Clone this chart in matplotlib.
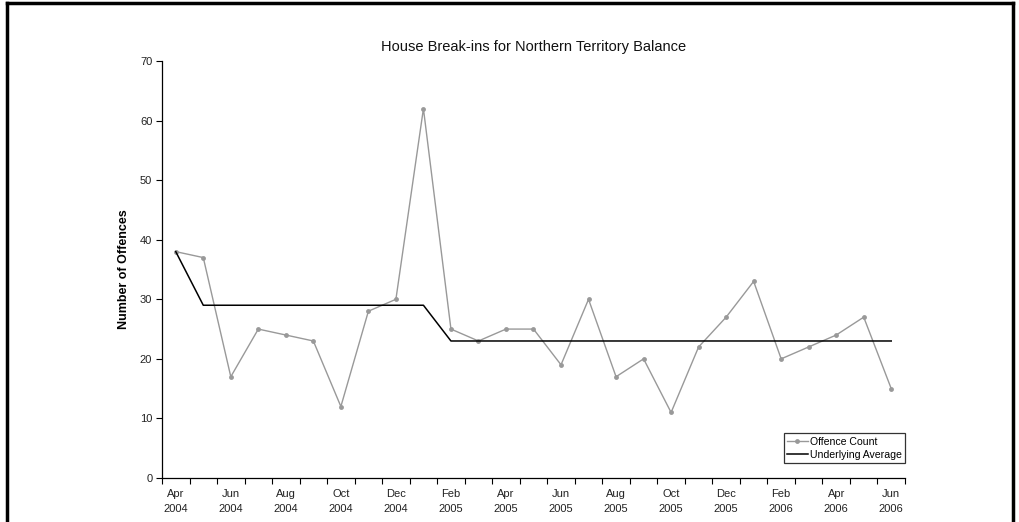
import numpy as np
import matplotlib
matplotlib.use("Agg")
import matplotlib.pyplot as plt
from matplotlib.lines import Line2D

plt.rcParams['font.family'] = ['Liberation Sans', 'DejaVu Sans']

# Monthly data, Apr 2004 .. Jun 2006
month_names = ['Jan', 'Feb', 'Mar', 'Apr', 'May', 'Jun',
               'Jul', 'Aug', 'Sep', 'Oct', 'Nov', 'Dec']
month_labels = []
m, y = 3, 2004
for k in range(27):
    month_labels.append(f"{month_names[m]}\n{y}")
    m += 1
    if m == 12:
        m, y = 0, y + 1

offence_count = [38, 37, 17, 25, 24, 23, 12, 28, 30, 62, 25, 23, 25, 25,
                 19, 30, 17, 20, 11, 22, 27, 33, 20, 22, 24, 27, 15]
underlying_avg = [38, 29, 29, 29, 29, 29, 29, 29, 29, 29, 23, 23, 23, 23,
                  23, 23, 23, 23, 23, 23, 23, 23, 23, 23, 23, 23, 23]

W, H = 1020, 522
fig = plt.figure(figsize=(W / 100, H / 100), dpi=100)
ax = fig.add_axes([162 / W, 1 - 478 / H, (905 - 162) / W, (478 - 61) / H])

x = np.arange(len(offence_count))
ax.plot(x, offence_count, color='#999999', lw=1.0, marker='o', ms=3.5,
        markeredgewidth=0, label='Offence Count')
ax.plot(x, underlying_avg, color='black', lw=1.1, label='Underlying Average')

ax.set_xlim(-0.5, len(x) - 0.5)
ax.set_ylim(0, 70)
ax.set_yticks(range(0, 71, 10))
ax.set_xticks(x[::2])
ax.set_xticklabels(month_labels[::2], fontsize=8, linespacing=1.55,
                   color='#222222')
ax.set_xticks(np.arange(-0.5, len(x)), minor=True)
ax.tick_params(axis='x', which='major', length=0, pad=8)
ax.tick_params(axis='x', which='minor', length=4, width=0.8, direction='out')
ax.tick_params(axis='y', length=4, width=0.8, labelsize=8, pad=3,
               labelcolor='#222222')

for s in ['top', 'right']:
    ax.spines[s].set_visible(False)
for s in ['left', 'bottom']:
    ax.spines[s].set_linewidth(0.9)

ax.set_ylabel('Number of Offences', fontsize=9, fontweight='bold', labelpad=7)
ax.set_title('House Break-ins for Northern Territory Balance', fontsize=10.5,
             pad=7, color='#111111')

leg = ax.legend(loc='lower right', bbox_to_anchor=(1.0, 0.036), fontsize=7.6,
                frameon=True, fancybox=False, edgecolor='black', borderpad=0.3,
                handlelength=2.0, handletextpad=0.2, labelspacing=0.3,
                borderaxespad=0)
leg.get_frame().set_linewidth(0.9)

# outer border (no bottom edge)
for xs, ys in [([7 / W, 7 / W], [0, 1 - 3 / H]),
               ([7 / W, 1013 / W], [1 - 3 / H, 1 - 3 / H]),
               ([1013 / W, 1013 / W], [0, 1 - 3 / H])]:
    fig.add_artist(Line2D(xs, ys, color='black', lw=2.5, transform=fig.transFigure))

fig.savefig('out.png', dpi=100, facecolor='white')
